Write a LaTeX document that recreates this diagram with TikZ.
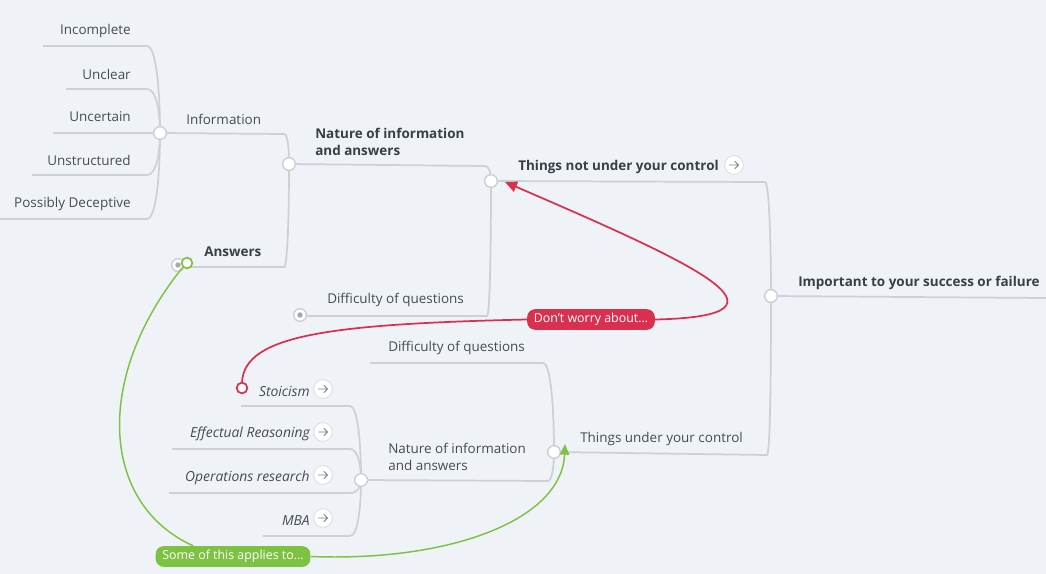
\documentclass[tikz,border=0pt]{standalone}
\usepackage{fontspec}
\setmainfont{Open Sans}
\usetikzlibrary{arrows.meta,calc}
\definecolor{bg}{HTML}{EFF3F8}
\definecolor{ln}{HTML}{CDD1D6}
\definecolor{tx}{HTML}{474C52}
\definecolor{tb}{HTML}{3A3F45}
\definecolor{rd}{HTML}{D9304F}
\definecolor{gr}{HTML}{7DC242}
\tikzset{
  x=0.75pt,y=-0.75pt,
  branch/.style={draw=ln,line width=1.3pt},
  hub/.style={circle,draw=ln,fill=white,line width=1.1pt,minimum size=9.5pt,inner sep=0pt},
  dothub/.style={circle,draw=ln,fill=white,line width=1.1pt,minimum size=9.5pt,inner sep=0pt,
     path picture={\fill[ln!80!black] (path picture bounding box.center) circle (2pt);}},
  lbl/.style={inner sep=0pt,text=tx,font=\fontsize{10.1}{12.75}\selectfont},
  blbl/.style={inner sep=0pt,text=tb,font=\fontsize{10.1}{12.75}\selectfont\bfseries},
  ilbl/.style={inner sep=0pt,text=tx,font=\fontsize{10.4}{12.75}\selectfont\itshape},
  icon/.style={circle,draw=ln!70,fill=white,line width=0.7pt,minimum size=14pt,inner sep=0pt,
     path picture={\draw[gray,line width=0.6pt,line cap=round,line join=round]
       ($(path picture bounding box.center)+(-3.4pt,0)$) -- ($(path picture bounding box.center)+(3.4pt,0)$)
       ($(path picture bounding box.center)+(0.6pt,2.8pt)$) -- ($(path picture bounding box.center)+(3.4pt,0)$) -- ($(path picture bounding box.center)+(0.6pt,-2.8pt)$);}},
  tag/.style={rounded corners=6pt,inner xsep=5pt,inner ysep=0pt,minimum height=15.5pt,text=white,font=\fontsize{9.3}{11}\selectfont},
  ring/.style={circle,fill=white,line width=1.3pt,minimum size=8pt,inner sep=0pt},
}
% child line: #1 left x, #2 right x, #3 y, #4 hub name, #5 hub x, #6 hub y
\newcommand\kidline[6]{\draw[branch] (#1,#3) -- (#2,#3) .. controls ({#2+0.7*(#5-#2)},#3) and (#5,{0.5*(#3+#6)}) .. (#4);}
\begin{document}
\begin{tikzpicture}
\useasboundingbox (0,0) rectangle (1046,574);
\fill[bg] (0,0) rectangle (1046,574);

% hubs (positions)
\coordinate (h1) at (160,133);
\coordinate (h2) at (289,164);
\coordinate (h3) at (491,181);
\coordinate (root) at (771,296);
\coordinate (h4) at (554,452);
\coordinate (h5) at (361,480);

% branch lines
\kidline{43}{147}{46}{h1}{160}{133}
\kidline{66}{147}{89}{h1}{160}{133}
\draw[branch] (53,133) -- (h1);
\kidline{32}{147}{175}{h1}{160}{133}
\kidline{0}{147}{219}{h1}{160}{133}
\draw[branch] (h1) -- (284,134) .. controls (288,134) and (289,150) .. (h2);
\kidline{190}{284}{267}{h2}{289}{164}
\draw[branch] (h2) -- (485,166) .. controls (489,166) and (491,173) .. (h3);
\kidline{300}{487}{316}{h3}{491}{181}
\draw[branch] (h3) -- (765,182) .. controls (769,182) and (771,240) .. (root);
\draw[branch] (h4) -- (767,455) .. controls (770,455) and (771,380) .. (root);
\draw[branch] (root) -- (1046,298);
\kidline{370}{543}{363}{h4}{554}{452}
\draw[branch] (h5) -- (548,481) .. controls (552,481) and (554,466) .. (h4);
\kidline{241}{350}{406}{h5}{361}{480}
\kidline{172}{350}{449}{h5}{361}{480}
\kidline{169}{350}{493}{h5}{361}{480}
\kidline{263}{350}{536}{h5}{361}{480}

\node[hub] (n1) at (h1) {};
\node[hub] (n2) at (h2) {};
\node[hub] (n3) at (h3) {};
\node[hub] (n0) at (root) {};
\node[hub] (n4) at (h4) {};
\node[hub] (n5) at (h5) {};
\node[dothub] (dq) at (300,315) {};
\node[dothub] (ans) at (178,265) {};

% labels
\node[lbl,anchor=east] (t1) at (131,31) {Incomplete};
\node[lbl,anchor=east] (t2) at (131,74) {Unclear};
\node[lbl,anchor=east] (t3) at (131,117) {Uncertain};
\node[lbl,anchor=east] (t4) at (131,160) {Unstructured};
\node[lbl,anchor=east] (t5) at (131,204) {Possibly Deceptive};
\node[lbl,anchor=west] (tinfo) at (186,119) {Information};
\node[blbl,anchor=west] (tans) at (204,252) {Answers};
\node[blbl,anchor=west,align=left] (tnat) at (315,142) {Nature of information\\and answers};
\node[blbl,anchor=west] (tnot) at (518,167) {Things not under your control};
\node[icon] (inot) at (734,165) {};
\node[lbl,anchor=west] (tdq) at (327,300) {Difficulty of questions};
\node[blbl,anchor=west] (timp) at (798,283) {Important to your success or failure};
\node[lbl,anchor=west] (tund) at (580,439) {Things under your control};
\node[lbl,anchor=west] (tdq2) at (388,348) {Difficulty of questions};
\node[lbl,anchor=west,align=left] (tnat2) at (388,457) {Nature of information\\and answers};
\node[ilbl,anchor=east] (tsto) at (310,391) {Stoicism};
\node[icon] (isto) at (323,389) {};
\node[ilbl,anchor=east] (teff) at (310,434) {Effectual Reasoning};
\node[icon] (ieff) at (323,432) {};
\node[ilbl,anchor=east] (tops) at (310,478) {Operations research};
\node[icon] (iops) at (323,475) {};
\node[ilbl,anchor=east] (tmba) at (310,521) {MBA};
\node[icon] (imba) at (323,518) {};

% relationship: red
\node[ring,draw=rd] (rstart) at (242,388) {};
\node[tag,fill=rd] (rtag) at (591,319.5) {Don't worry about...};
\coordinate (rend) at (505,182);
\draw[rd,line width=1.3pt] (rstart.north) .. controls (245,335) and (330,324) .. (rtag.west);
\draw[rd,line width=1.3pt,-{Triangle[length=9pt,width=8pt]}] (rtag.east) .. controls (812,316) and (690,262) .. (rend);

% relationship: green
\node[ring,draw=gr] (gstart) at (187,263) {};
\node[tag,fill=gr] (gtag) at (233,556.5) {Some of this applies to...};
\coordinate (gend) at (565,444);
\draw[gr,line width=1.1pt] (gstart.south west) .. controls (92,380) and (102,505) .. ($(gtag.north west)+(38,0)$);
\draw[gr,line width=1.1pt,-{Triangle[length=8pt,width=7pt]}] (gtag.east) .. controls (450,562) and (562,520) .. (gend);
\end{tikzpicture}
\end{document}
